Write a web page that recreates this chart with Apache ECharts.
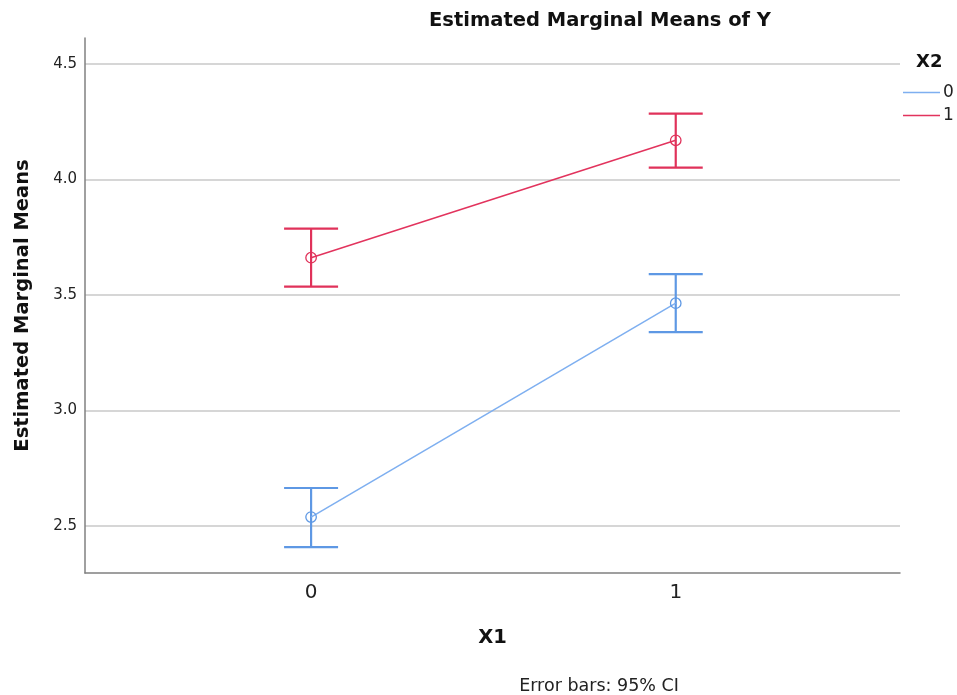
<!DOCTYPE html>
<html><head><meta charset="utf-8">
<script src="https://cdn.jsdelivr.net/npm/echarts@6/dist/echarts.min.js"></script>
<style>html,body{margin:0;padding:0;background:#fff}#c{width:957px;height:695px}</style>
</head><body><div id="c"></div>
<script>
const x1Levels = [0, 1];
const x2Levels = ['0', '1'];
const meanX2_0 = [2.539, 3.465];
const lowX2_0 = [2.409, 3.340];
const highX2_0 = [2.665, 3.591];
const meanX2_1 = [3.662, 4.170];
const lowX2_1 = [3.537, 4.052];
const highX2_1 = [3.788, 4.286];
const yTicks = [2.5, 3.0, 3.5, 4.0, 4.5];

const blue = '#7eaff0', blueBar = '#5e98e4';
const red = '#e2335d', redBar = '#e0325a';
const FONT = 'DejaVu Sans';

function errSeries(name, low, high, color) {
  return {
    type: 'custom', name: name, z: 3,
    data: x1Levels.map((x, i) => [x, low[i], high[i]]),
    renderItem: function (params, api) {
      const lo = api.coord([api.value(0), api.value(1)]);
      const hi = api.coord([api.value(0), api.value(2)]);
      const hw = 27;
      const st = { stroke: color, lineWidth: 2.2 };
      return { type: 'group', children: [
        { type: 'line', shape: { x1: lo[0], y1: lo[1], x2: hi[0], y2: hi[1] }, style: st },
        { type: 'line', shape: { x1: lo[0] - hw, y1: lo[1], x2: lo[0] + hw, y2: lo[1] }, style: st },
        { type: 'line', shape: { x1: hi[0] - hw, y1: hi[1], x2: hi[0] + hw, y2: hi[1] }, style: st }
      ]};
    }
  };
}
function lineSeries(name, vals, color, mark) {
  return {
    type: 'line', name: name, z: 4,
    data: x1Levels.map((x, i) => [x, vals[i]]),
    symbol: 'circle', symbolSize: 10.5,
    lineStyle: { color: color, width: 1.5 },
    itemStyle: { color: 'rgba(0,0,0,0)', borderColor: mark, borderWidth: 1.3 },
    emphasis: { disabled: true }
  };
}

const chart = echarts.init(document.getElementById('c'));
chart.setOption({
  animation: false,
  textStyle: { fontFamily: FONT },
  title: [
    { text: 'Estimated Marginal Means of Y', left: 595, top: 6, textAlign: 'center',
      textStyle: { fontFamily: FONT, fontSize: 19.5, fontWeight: 'bold', color: '#111' } },
    { text: 'X2', left: 911, top: 48,
      textStyle: { fontFamily: FONT, fontSize: 18, fontWeight: 'bold', color: '#111' } },
    { text: 'Error bars: 95% CI', left: 594, top: 672, textAlign: 'center',
      textStyle: { fontFamily: FONT, fontSize: 17.5, fontWeight: 'normal', color: '#222' } }
  ],
  legend: {
    orient: 'vertical', left: 898, top: 79, itemGap: 6,
    itemWidth: 37, itemHeight: 1.5, icon: 'rect',
    itemStyle: { borderWidth: 0 },
    data: [
      { name: x2Levels[0], itemStyle: { color: blue, borderWidth: 0 } },
      { name: x2Levels[1], itemStyle: { color: red, borderWidth: 0 } }
    ],
    textStyle: { fontFamily: FONT, fontSize: 17, color: '#222', padding: [0, 0, 0, -2] },
    selectedMode: false
  },
  grid: { left: 85, right: 57, top: 38, bottom: 122 },
  xAxis: {
    type: 'value', min: -0.62, max: 1.615,
    name: 'X1', nameLocation: 'middle', nameGap: 55,
    nameTextStyle: { fontFamily: FONT, fontSize: 19.5, fontWeight: 'bold', color: '#111' },
    axisLine: { show: true, onZero: false, lineStyle: { color: '#808080', width: 1.5 } },
    axisTick: { show: false, customValues: x1Levels },
    axisLabel: { customValues: x1Levels, fontSize: 20, color: '#222', margin: 10, fontFamily: FONT },
    splitLine: { show: false }
  },
  yAxis: {
    type: 'value', min: 2.297, max: 4.613,
    name: 'Estimated Marginal Means', nameLocation: 'middle', nameGap: 52,
    nameTextStyle: { fontFamily: FONT, fontSize: 19.5, fontWeight: 'bold', color: '#111' },
    axisLine: { show: true, onZero: false, lineStyle: { color: '#808080', width: 1.5 } },
    axisTick: { show: false, customValues: yTicks },
    axisLabel: { customValues: yTicks, fontSize: 15, color: '#222', margin: 8, fontFamily: FONT,
      formatter: v => v.toFixed(1) },
    splitLine: { show: true, lineStyle: { color: '#c8c8c8', width: 1.5 } }
  },
  series: [
    errSeries(x2Levels[0] + ' err', lowX2_0, highX2_0, blueBar),
    errSeries(x2Levels[1] + ' err', lowX2_1, highX2_1, redBar),
    lineSeries(x2Levels[0], meanX2_0, blue, blueBar),
    lineSeries(x2Levels[1], meanX2_1, red, redBar)
  ]
});
</script></body></html>
